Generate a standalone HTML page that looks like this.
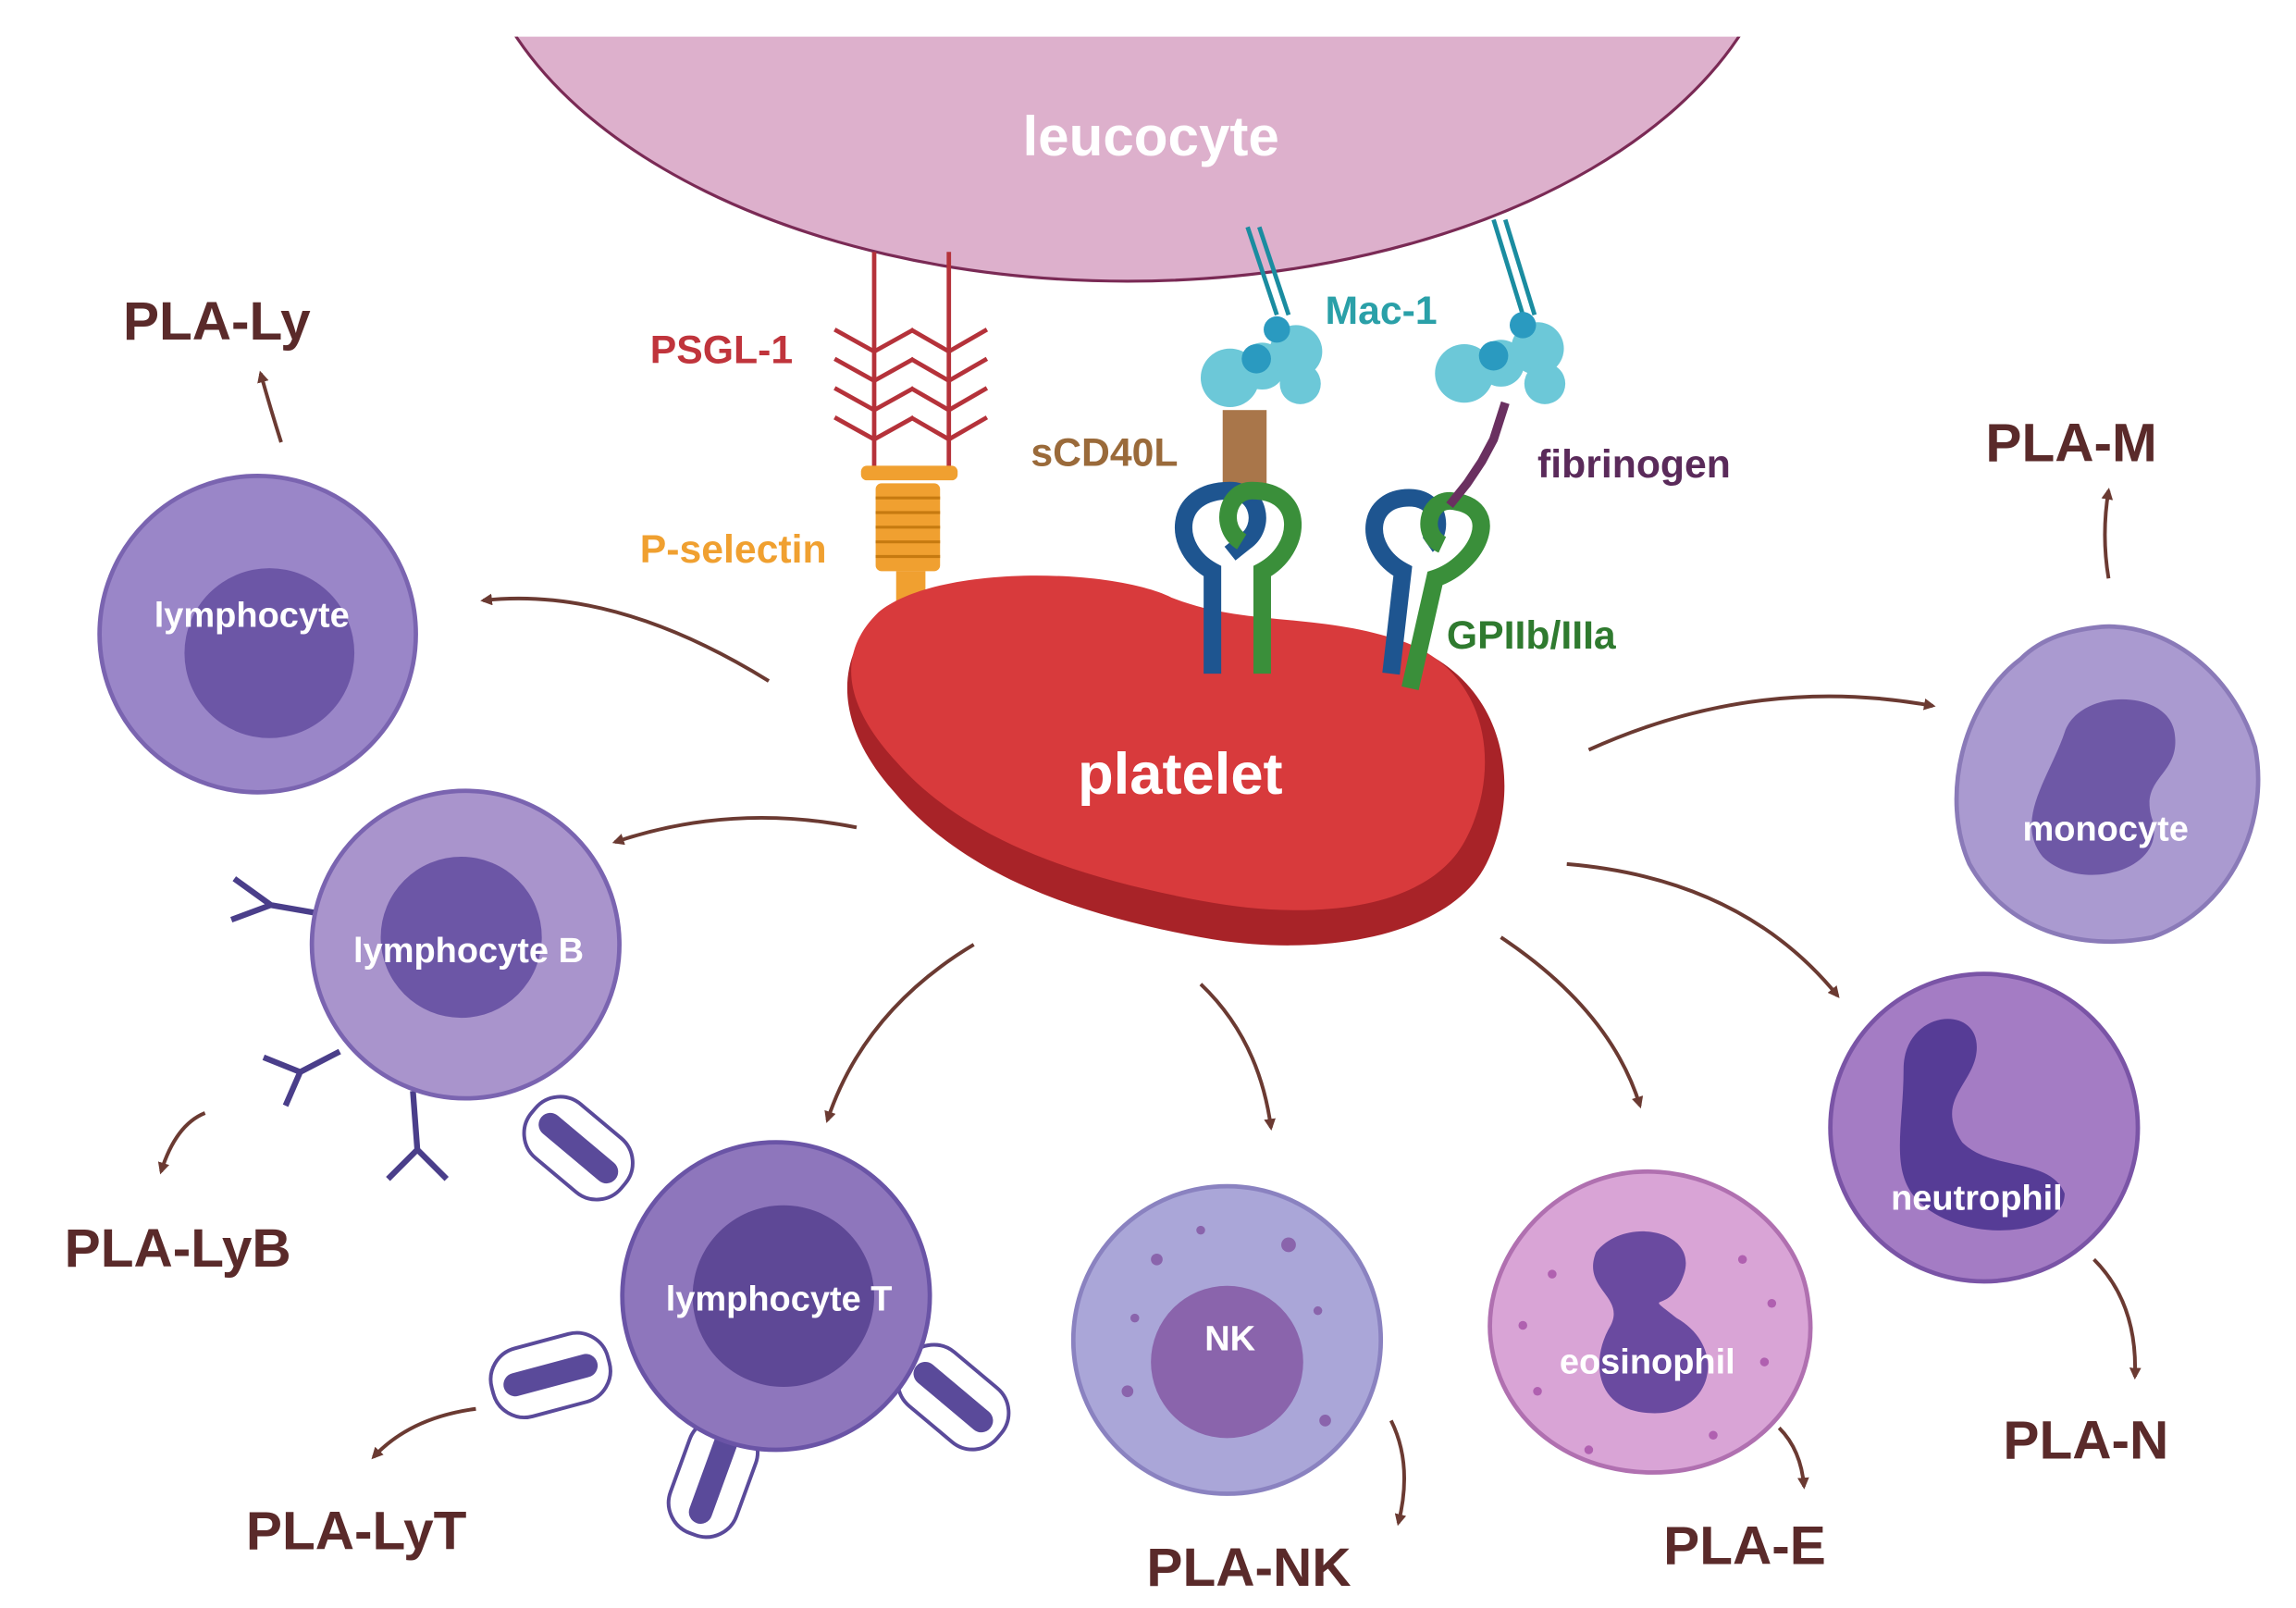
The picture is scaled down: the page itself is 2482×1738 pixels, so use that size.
<!DOCTYPE html>
<html><head><meta charset="utf-8"><style>
html,body{margin:0;padding:0;background:#fff;}
svg{display:block;}
text{font-family:"Liberation Sans",sans-serif;font-weight:bold;}
</style></head><body>
<svg width="2482" height="1738" viewBox="0 0 1568 1098" preserveAspectRatio="none" xmlns="http://www.w3.org/2000/svg">
<defs>
<marker id="ah" markerWidth="8" markerHeight="8" refX="6" refY="4" orient="auto" markerUnits="userSpaceOnUse" viewBox="0 0 8 8"><path d="M0,0 L8,4 L0,8 Z" fill="#6b3a32"/></marker>
<clipPath id="top"><rect x="0" y="25" width="1568" height="1100"/></clipPath>
</defs>
<rect width="1568" height="1098" fill="#fff"/>
<g clip-path="url(#top)">
<ellipse cx="770" cy="-70" rx="448" ry="262" fill="#ddb0cc" stroke="#7a2a55" stroke-width="2"/>
</g>
<text x="786" y="106" font-size="38" fill="#fff" text-anchor="middle">leucocyte</text>

<g stroke="#b5323a" stroke-width="3" fill="none">
<line x1="597" y1="172" x2="597" y2="322"/><line x1="648" y1="172" x2="648" y2="322"/>
<path d="M570 225 L597 240 L624 225 M570 245 L597 260 L624 245 M570 265 L597 280 L624 265 M570 285 L597 300 L624 285"/>
<path d="M622 225 L648 240 L674 225 M622 245 L648 260 L674 245 M622 265 L648 280 L674 265 M622 285 L648 300 L674 285"/>
</g>
<text x="444" y="248" font-size="27" fill="#c0343c">PSGL-1</text>
<g fill="#f0a030">
<rect x="588" y="318" width="66" height="10" rx="4"/>
<rect x="598" y="330" width="44" height="60" rx="4"/>
<rect x="612" y="390" width="20" height="40"/>
</g>
<g stroke="#c67a10" stroke-width="2"><line x1="598" y1="340" x2="642" y2="340"/><line x1="598" y1="350" x2="642" y2="350"/><line x1="598" y1="360" x2="642" y2="360"/><line x1="598" y1="370" x2="642" y2="370"/><line x1="598" y1="380" x2="642" y2="380"/></g>
<text x="437" y="384" font-size="27" fill="#f0a030">P-selectin</text>

<path d="M600 420 C640 385 760 390 800 410 C850 430 900 420 960 440 C1030 465 1040 540 1015 590 C990 640 900 655 820 640 C740 625 660 600 610 540 C570 495 570 450 600 420 Z" fill="#a82328"/>
<path d="M600 418 C640 385 760 388 800 408 C850 428 900 418 958 438 C1020 460 1025 530 1000 575 C975 620 900 630 820 615 C740 600 660 575 612 520 C575 480 572 445 600 418 Z" fill="#d83a3c"/>
<text x="806" y="542" font-size="40" fill="#fff" text-anchor="middle">platelet</text>

<rect x="835" y="280" width="30" height="60" fill="#a9764a"/>
<text x="704" y="318" font-size="27" fill="#9a6a3a">sCD40L</text>
<path d="M828 460 L828 390 C800 375 800 335 840 335 C860 335 865 360 850 370 L840 378" fill="none" stroke="#1e5590" stroke-width="12"/>
<path d="M862 460 L862 390 C890 375 892 335 855 335 C838 335 832 360 848 370" fill="none" stroke="#3a8f3a" stroke-width="12"/>
<path d="M950 460 L958 390 C930 375 932 338 965 340 C985 342 985 365 975 372" fill="none" stroke="#1e5590" stroke-width="12"/>
<path d="M963 470 L980 395 C1010 385 1028 345 990 342 C975 342 970 365 985 372" fill="none" stroke="#3a8f3a" stroke-width="12"/>
<text x="988" y="443" font-size="27" fill="#2f7a2f">GPIIb/IIIa</text>
<g stroke="#1a8ca0" stroke-width="3"><line x1="852" y1="155" x2="872" y2="215"/><line x1="860" y1="155" x2="880" y2="215"/><line x1="1020" y1="150" x2="1040" y2="215"/><line x1="1028" y1="150" x2="1048" y2="215"/></g>
<g fill="#6cc8d8"><circle cx="840" cy="258" r="20"/><circle cx="862" cy="250" r="16"/><circle cx="885" cy="240" r="18"/><circle cx="888" cy="262" r="14"/><circle cx="1000" cy="255" r="20"/><circle cx="1025" cy="248" r="16"/><circle cx="1050" cy="238" r="18"/><circle cx="1055" cy="262" r="14"/></g>
<g fill="#2a9ac0"><circle cx="872" cy="225" r="9"/><circle cx="858" cy="245" r="10"/><circle cx="1040" cy="222" r="9"/><circle cx="1020" cy="243" r="10"/></g>
<text x="905" y="221" font-size="27" fill="#2aa0a8">Mac-1</text>
<path d="M1028 275 L1020 300 L1012 315 L1002 330 L990 345" stroke="#6a3060" stroke-width="6" fill="none"/>
<text x="1050" y="326" font-size="27" fill="#5a2a5a">fibrinogen</text>

<g stroke="#6b3a32" stroke-width="2.5" fill="none" marker-end="url(#ah)">
<path d="M192 302 Q185 280 178 255"/>
<path d="M525 465 Q420 400 330 410"/>
<path d="M585 565 Q500 548 420 575"/>
<path d="M140 760 Q120 768 110 800"/>
<path d="M665 645 Q590 690 565 765"/>
<path d="M325 962 Q280 968 255 995"/>
<path d="M820 672 Q860 710 868 770"/>
<path d="M950 970 Q965 1000 955 1040"/>
<path d="M1025 640 Q1100 690 1120 755"/>
<path d="M1215 975 Q1230 990 1232 1015"/>
<path d="M1070 590 Q1190 600 1255 680"/>
<path d="M1430 860 Q1460 890 1458 940"/>
<path d="M1085 512 Q1200 460 1320 482"/>
<path d="M1440 395 Q1435 365 1440 335"/>
</g>

<circle cx="176" cy="433" r="108" fill="#9a86c8" stroke="#7a64b0" stroke-width="3"/>
<circle cx="184" cy="446" r="58" fill="#6c56a6"/>
<text x="172" y="428" font-size="24" fill="#fff" text-anchor="middle">lymphocyte</text>
<g stroke="#4a3e8a" stroke-width="4" fill="none">
<path d="M225 625 L185 618 M185 618 L160 600 M185 618 L158 628"/>
<path d="M232 718 L205 732 M205 732 L180 722 M205 732 L195 755"/>
<path d="M282 745 L285 785 M285 785 L265 805 M285 785 L305 805"/>
</g>
<circle cx="318" cy="645" r="105" fill="#a994cc" stroke="#7a64b0" stroke-width="3"/>
<circle cx="315" cy="640" r="55" fill="#6c56a6"/>
<text x="320" y="657" font-size="24" fill="#fff" text-anchor="middle">lymphocyte B</text>
<g stroke="#5a4a9a" stroke-width="2.5" fill="#fff">
<rect x="355" y="760" width="80" height="48" rx="22" transform="rotate(40 395 784)"/>
<rect x="335" y="915" width="82" height="48" rx="22" transform="rotate(-15 376 939)"/>
<rect x="446" y="985" width="82" height="48" rx="22" transform="rotate(-70 487 1009)"/>
<rect x="610" y="930" width="82" height="48" rx="22" transform="rotate(40 651 954)"/>
</g>
<g fill="#5a4a9a">
<rect x="362" y="776" width="66" height="16" rx="8" transform="rotate(40 395 784)"/>
<rect x="343" y="931" width="66" height="16" rx="8" transform="rotate(-15 376 939)"/>
<rect x="454" y="1001" width="66" height="16" rx="8" transform="rotate(-70 487 1009)"/>
<rect x="618" y="946" width="66" height="16" rx="8" transform="rotate(40 651 954)"/>
</g>
<circle cx="530" cy="885" r="105" fill="#8e76bc" stroke="#6a54a6" stroke-width="3"/>
<circle cx="535" cy="885" r="62" fill="#5e4896"/>
<text x="532" y="895" font-size="24" fill="#fff" text-anchor="middle">lymphocyte T</text>
<circle cx="838" cy="915" r="105" fill="#aaa6d8" stroke="#8a82c0" stroke-width="3"/>
<circle cx="838" cy="930" r="52" fill="#8a64ac"/>
<g fill="#8a64ac"><circle cx="790" cy="860" r="4"/><circle cx="880" cy="850" r="5"/><circle cx="775" cy="900" r="3"/><circle cx="905" cy="970" r="4"/><circle cx="770" cy="950" r="4"/><circle cx="900" cy="895" r="3"/><circle cx="820" cy="840" r="3"/></g>
<text x="840" y="922" font-size="24" fill="#fff" text-anchor="middle">NK</text>
<path d="M1125 800 C1180 800 1230 840 1235 890 C1245 950 1200 1000 1140 1005 C1080 1010 1025 975 1018 915 C1012 860 1060 800 1125 800 Z" fill="#d9a4d6" stroke="#b070b0" stroke-width="3"/>
<path d="M1090 855 C1110 830 1160 840 1150 870 C1140 900 1120 880 1145 900 C1180 920 1170 965 1130 965 C1090 965 1085 930 1100 905 C1110 885 1080 880 1090 855 Z" fill="#6a4aa0"/>
<g fill="#b060b0"><circle cx="1060" cy="870" r="3"/><circle cx="1190" cy="860" r="3"/><circle cx="1205" cy="930" r="3"/><circle cx="1050" cy="950" r="3"/><circle cx="1170" cy="980" r="3"/><circle cx="1085" cy="990" r="3"/><circle cx="1210" cy="890" r="3"/><circle cx="1040" cy="905" r="3"/></g>
<text x="1125" y="938" font-size="24" fill="#fff" text-anchor="middle">eosinophil</text>
<circle cx="1355" cy="770" r="105" fill="#a47cc4" stroke="#7a54a6" stroke-width="3"/>
<path d="M1300 730 C1300 690 1350 685 1350 715 C1350 740 1320 750 1340 780 C1360 800 1400 790 1410 815 C1410 845 1340 850 1310 820 C1290 800 1300 770 1300 730 Z" fill="#563c96"/>
<text x="1350" y="826" font-size="24" fill="#fff" text-anchor="middle">neutrophil</text>
<path d="M1435 428 C1480 425 1525 460 1540 510 C1550 560 1525 620 1470 640 C1420 650 1370 635 1345 590 C1325 545 1340 480 1380 450 C1395 435 1415 430 1435 428 Z" fill="#aa9ad0" stroke="#8a7ab8" stroke-width="3"/>
<path d="M1410 500 C1420 470 1480 470 1485 500 C1490 530 1460 530 1470 560 C1480 595 1420 610 1395 585 C1375 560 1400 530 1410 500 Z" fill="#6e58a6"/>
<text x="1438" y="574" font-size="24" fill="#fff" text-anchor="middle">monocyte</text>

<g font-size="37" fill="#5a2a2a">
<text x="84" y="232">PLA-Ly</text>
<text x="44" y="865">PLA-LyB</text>
<text x="168" y="1058">PLA-LyT</text>
<text x="783" y="1083">PLA-NK</text>
<text x="1136" y="1068">PLA-E</text>
<text x="1368" y="996">PLA-N</text>
<text x="1356" y="315">PLA-M</text>
</g>
</svg>
</body></html>
